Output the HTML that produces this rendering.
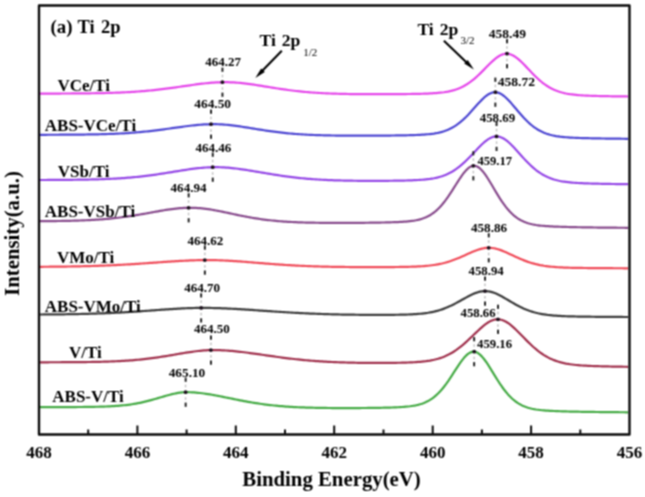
<!DOCTYPE html>
<html><head><meta charset="utf-8"><title>Ti 2p XPS</title>
<style>html,body{margin:0;padding:0;background:#fff;width:645px;height:497px;overflow:hidden}
svg{display:block}</style></head>
<body>
<svg width="645" height="497" viewBox="0 0 645 497">
<defs><filter id="bl" x="0" y="0" width="645" height="497" filterUnits="userSpaceOnUse" color-interpolation-filters="sRGB"><feConvolveMatrix order="3" kernelMatrix="1 2 1 2 4 2 1 2 1" divisor="16" edgeMode="duplicate"/></filter></defs>
<rect width="645" height="497" fill="#fff"/>
<g filter="url(#bl)">
<path d="M40.0,93.60 L42.0,93.59 L44.0,93.59 L46.0,93.58 L48.0,93.58 L50.0,93.57 L52.0,93.56 L54.0,93.56 L56.0,93.55 L58.0,93.54 L60.0,93.53 L62.0,93.52 L64.0,93.51 L66.0,93.50 L68.0,93.49 L70.0,93.48 L72.0,93.47 L74.0,93.45 L76.0,93.44 L78.0,93.42 L80.0,93.40 L82.0,93.38 L84.0,93.36 L86.0,93.34 L88.0,93.32 L90.0,93.29 L92.0,93.27 L94.0,93.24 L96.0,93.20 L98.0,93.17 L100.0,93.13 L102.0,93.09 L104.0,93.04 L106.0,93.00 L108.0,92.94 L110.0,92.89 L112.0,92.83 L114.0,92.76 L116.0,92.69 L118.0,92.62 L120.0,92.54 L122.0,92.45 L124.0,92.36 L126.0,92.26 L128.0,92.16 L130.0,92.04 L132.0,91.93 L134.0,91.80 L136.0,91.67 L138.0,91.52 L140.0,91.37 L142.0,91.22 L144.0,91.05 L146.0,90.88 L148.0,90.69 L150.0,90.50 L152.0,90.30 L154.0,90.09 L156.0,89.87 L158.0,89.65 L160.0,89.42 L162.0,89.18 L164.0,88.93 L166.0,88.67 L168.0,88.41 L170.0,88.14 L172.0,87.87 L174.0,87.59 L176.0,87.31 L178.0,87.02 L180.0,86.73 L182.0,86.44 L184.0,86.15 L186.0,85.86 L188.0,85.57 L190.0,85.29 L192.0,85.01 L194.0,84.73 L196.0,84.46 L198.0,84.20 L200.0,83.94 L202.0,83.70 L204.0,83.47 L206.0,83.26 L208.0,83.06 L210.0,82.88 L212.0,82.71 L214.0,82.57 L216.0,82.45 L218.0,82.35 L220.0,82.28 L222.0,82.22 L224.0,82.20 L226.0,82.20 L228.0,82.22 L230.0,82.28 L232.0,82.36 L234.0,82.46 L236.0,82.60 L238.0,82.75 L240.0,82.93 L242.0,83.13 L244.0,83.36 L246.0,83.60 L248.0,83.85 L250.0,84.13 L252.0,84.41 L254.0,84.71 L256.0,85.01 L258.0,85.32 L260.0,85.64 L262.0,85.96 L264.0,86.29 L266.0,86.61 L268.0,86.94 L270.0,87.26 L272.0,87.59 L274.0,87.91 L276.0,88.22 L278.0,88.53 L280.0,88.83 L282.0,89.13 L284.0,89.42 L286.0,89.70 L288.0,89.97 L290.0,90.23 L292.0,90.49 L294.0,90.73 L296.0,90.97 L298.0,91.19 L300.0,91.41 L302.0,91.61 L304.0,91.80 L306.0,91.99 L308.0,92.16 L310.0,92.33 L312.0,92.48 L314.0,92.63 L316.0,92.77 L318.0,92.89 L320.0,93.02 L322.0,93.13 L324.0,93.23 L326.0,93.33 L328.0,93.42 L330.0,93.50 L332.0,93.58 L334.0,93.65 L336.0,93.71 L338.0,93.77 L340.0,93.83 L342.0,93.88 L344.0,93.92 L346.0,93.96 L348.0,94.00 L350.0,94.03 L352.0,94.06 L354.0,94.09 L356.0,94.11 L358.0,94.13 L360.0,94.15 L362.0,94.17 L364.0,94.18 L366.0,94.19 L368.0,94.20 L370.0,94.20 L372.0,94.21 L374.0,94.21 L376.0,94.21 L378.0,94.21 L380.0,94.21 L382.0,94.21 L384.0,94.20 L386.0,94.20 L388.0,94.19 L390.0,94.18 L392.0,94.17 L394.0,94.16 L396.0,94.14 L398.0,94.13 L400.0,94.11 L402.0,94.09 L404.0,94.07 L406.0,94.04 L408.0,94.02 L410.0,93.99 L412.0,93.96 L414.0,93.92 L416.0,93.89 L418.0,93.84 L420.0,93.80 L422.0,93.74 L424.0,93.68 L426.0,93.61 L428.0,93.53 L430.0,93.44 L432.0,93.34 L434.0,93.22 L436.0,93.08 L438.0,92.91 L440.0,92.72 L442.0,92.49 L444.0,92.23 L446.0,91.92 L448.0,91.56 L450.0,91.15 L452.0,90.67 L454.0,90.11 L456.0,89.48 L458.0,88.75 L460.0,87.93 L462.0,87.00 L464.0,85.97 L466.0,84.82 L468.0,83.55 L470.0,82.17 L472.0,80.67 L474.0,79.05 L476.0,77.33 L478.0,75.51 L480.0,73.61 L482.0,71.64 L484.0,69.63 L486.0,67.59 L488.0,65.56 L490.0,63.57 L492.0,61.66 L494.0,59.85 L496.0,58.21 L498.0,56.76 L500.0,55.55 L502.0,54.62 L504.0,54.00 L506.0,53.71 L508.0,53.77 L510.0,54.18 L512.0,54.92 L514.0,55.97 L516.0,57.30 L518.0,58.86 L520.0,60.62 L522.0,62.52 L524.0,64.53 L526.0,66.62 L528.0,68.73 L530.0,70.85 L532.0,72.94 L534.0,74.98 L536.0,76.94 L538.0,78.82 L540.0,80.59 L542.0,82.26 L544.0,83.80 L546.0,85.23 L548.0,86.53 L550.0,87.71 L552.0,88.78 L554.0,89.73 L556.0,90.57 L558.0,91.32 L560.0,91.98 L562.0,92.55 L564.0,93.05 L566.0,93.48 L568.0,93.86 L570.0,94.18 L572.0,94.45 L574.0,94.69 L576.0,94.90 L578.0,95.07 L580.0,95.23 L582.0,95.36 L584.0,95.48 L586.0,95.58 L588.0,95.67 L590.0,95.75 L592.0,95.82 L594.0,95.88 L596.0,95.94 L598.0,95.99 L600.0,96.04 L602.0,96.09 L604.0,96.13 L606.0,96.17 L608.0,96.21 L610.0,96.25 L612.0,96.28 L614.0,96.31 L616.0,96.34 L618.0,96.37 L620.0,96.40 L622.0,96.42 L624.0,96.45 L626.0,96.47 L628.0,96.49" fill="none" stroke="#e545ea" stroke-width="2.2" stroke-linejoin="round"/>
<path d="M40.0,134.80 L42.0,134.79 L44.0,134.79 L46.0,134.78 L48.0,134.77 L50.0,134.77 L52.0,134.76 L54.0,134.75 L56.0,134.74 L58.0,134.73 L60.0,134.72 L62.0,134.71 L64.0,134.70 L66.0,134.69 L68.0,134.68 L70.0,134.66 L72.0,134.65 L74.0,134.63 L76.0,134.61 L78.0,134.59 L80.0,134.57 L82.0,134.55 L84.0,134.53 L86.0,134.50 L88.0,134.47 L90.0,134.44 L92.0,134.40 L94.0,134.37 L96.0,134.33 L98.0,134.28 L100.0,134.24 L102.0,134.19 L104.0,134.13 L106.0,134.07 L108.0,134.01 L110.0,133.94 L112.0,133.86 L114.0,133.78 L116.0,133.69 L118.0,133.60 L120.0,133.50 L122.0,133.40 L124.0,133.28 L126.0,133.16 L128.0,133.03 L130.0,132.90 L132.0,132.75 L134.0,132.60 L136.0,132.44 L138.0,132.27 L140.0,132.09 L142.0,131.90 L144.0,131.70 L146.0,131.50 L148.0,131.29 L150.0,131.06 L152.0,130.83 L154.0,130.60 L156.0,130.35 L158.0,130.10 L160.0,129.84 L162.0,129.58 L164.0,129.31 L166.0,129.03 L168.0,128.76 L170.0,128.48 L172.0,128.19 L174.0,127.91 L176.0,127.63 L178.0,127.34 L180.0,127.06 L182.0,126.79 L184.0,126.52 L186.0,126.26 L188.0,126.00 L190.0,125.76 L192.0,125.52 L194.0,125.31 L196.0,125.10 L198.0,124.91 L200.0,124.75 L202.0,124.60 L204.0,124.47 L206.0,124.36 L208.0,124.28 L210.0,124.23 L212.0,124.20 L214.0,124.19 L216.0,124.21 L218.0,124.27 L220.0,124.34 L222.0,124.45 L224.0,124.59 L226.0,124.74 L228.0,124.93 L230.0,125.13 L232.0,125.36 L234.0,125.61 L236.0,125.87 L238.0,126.14 L240.0,126.43 L242.0,126.73 L244.0,127.04 L246.0,127.36 L248.0,127.68 L250.0,128.00 L252.0,128.33 L254.0,128.65 L256.0,128.98 L258.0,129.30 L260.0,129.62 L262.0,129.94 L264.0,130.25 L266.0,130.55 L268.0,130.84 L270.0,131.13 L272.0,131.41 L274.0,131.68 L276.0,131.94 L278.0,132.19 L280.0,132.43 L282.0,132.66 L284.0,132.88 L286.0,133.09 L288.0,133.29 L290.0,133.48 L292.0,133.65 L294.0,133.82 L296.0,133.98 L298.0,134.13 L300.0,134.27 L302.0,134.40 L304.0,134.52 L306.0,134.63 L308.0,134.73 L310.0,134.83 L312.0,134.92 L314.0,135.00 L316.0,135.07 L318.0,135.14 L320.0,135.21 L322.0,135.26 L324.0,135.32 L326.0,135.36 L328.0,135.41 L330.0,135.45 L332.0,135.48 L334.0,135.51 L336.0,135.54 L338.0,135.56 L340.0,135.59 L342.0,135.61 L344.0,135.62 L346.0,135.64 L348.0,135.65 L350.0,135.66 L352.0,135.67 L354.0,135.67 L356.0,135.68 L358.0,135.68 L360.0,135.68 L362.0,135.68 L364.0,135.68 L366.0,135.68 L368.0,135.67 L370.0,135.67 L372.0,135.66 L374.0,135.65 L376.0,135.64 L378.0,135.63 L380.0,135.62 L382.0,135.60 L384.0,135.59 L386.0,135.57 L388.0,135.55 L390.0,135.53 L392.0,135.51 L394.0,135.48 L396.0,135.46 L398.0,135.43 L400.0,135.40 L402.0,135.36 L404.0,135.33 L406.0,135.28 L408.0,135.24 L410.0,135.19 L412.0,135.13 L414.0,135.07 L416.0,134.99 L418.0,134.91 L420.0,134.82 L422.0,134.71 L424.0,134.58 L426.0,134.43 L428.0,134.26 L430.0,134.06 L432.0,133.82 L434.0,133.54 L436.0,133.21 L438.0,132.83 L440.0,132.38 L442.0,131.85 L444.0,131.25 L446.0,130.55 L448.0,129.75 L450.0,128.84 L452.0,127.81 L454.0,126.66 L456.0,125.37 L458.0,123.95 L460.0,122.40 L462.0,120.71 L464.0,118.89 L466.0,116.95 L468.0,114.91 L470.0,112.77 L472.0,110.57 L474.0,108.33 L476.0,106.07 L478.0,103.84 L480.0,101.67 L482.0,99.61 L484.0,97.71 L486.0,96.01 L488.0,94.57 L490.0,93.44 L492.0,92.65 L494.0,92.25 L496.0,92.24 L498.0,92.63 L500.0,93.40 L502.0,94.54 L504.0,96.00 L506.0,97.74 L508.0,99.71 L510.0,101.84 L512.0,104.11 L514.0,106.44 L516.0,108.82 L518.0,111.19 L520.0,113.52 L522.0,115.79 L524.0,117.97 L526.0,120.05 L528.0,122.00 L530.0,123.82 L532.0,125.50 L534.0,127.04 L536.0,128.44 L538.0,129.70 L540.0,130.83 L542.0,131.83 L544.0,132.72 L546.0,133.49 L548.0,134.17 L550.0,134.75 L552.0,135.26 L554.0,135.69 L556.0,136.07 L558.0,136.38 L560.0,136.66 L562.0,136.89 L564.0,137.09 L566.0,137.26 L568.0,137.41 L570.0,137.54 L572.0,137.66 L574.0,137.75 L576.0,137.84 L578.0,137.92 L580.0,137.99 L582.0,138.06 L584.0,138.11 L586.0,138.17 L588.0,138.22 L590.0,138.26 L592.0,138.31 L594.0,138.35 L596.0,138.39 L598.0,138.42 L600.0,138.46 L602.0,138.49 L604.0,138.52 L606.0,138.55 L608.0,138.58 L610.0,138.60 L612.0,138.63 L614.0,138.65 L616.0,138.68 L618.0,138.70 L620.0,138.72 L622.0,138.74 L624.0,138.76 L626.0,138.78 L628.0,138.80" fill="none" stroke="#4c46d2" stroke-width="2.2" stroke-linejoin="round"/>
<path d="M40.0,180.00 L42.0,179.99 L44.0,179.98 L46.0,179.98 L48.0,179.97 L50.0,179.96 L52.0,179.95 L54.0,179.93 L56.0,179.92 L58.0,179.91 L60.0,179.90 L62.0,179.88 L64.0,179.87 L66.0,179.85 L68.0,179.83 L70.0,179.81 L72.0,179.79 L74.0,179.77 L76.0,179.74 L78.0,179.72 L80.0,179.69 L82.0,179.66 L84.0,179.62 L86.0,179.59 L88.0,179.55 L90.0,179.51 L92.0,179.46 L94.0,179.41 L96.0,179.36 L98.0,179.30 L100.0,179.24 L102.0,179.17 L104.0,179.10 L106.0,179.02 L108.0,178.94 L110.0,178.85 L112.0,178.75 L114.0,178.65 L116.0,178.54 L118.0,178.43 L120.0,178.30 L122.0,178.17 L124.0,178.03 L126.0,177.88 L128.0,177.72 L130.0,177.56 L132.0,177.38 L134.0,177.19 L136.0,177.00 L138.0,176.80 L140.0,176.58 L142.0,176.36 L144.0,176.13 L146.0,175.88 L148.0,175.63 L150.0,175.37 L152.0,175.10 L154.0,174.82 L156.0,174.54 L158.0,174.25 L160.0,173.95 L162.0,173.64 L164.0,173.33 L166.0,173.01 L168.0,172.69 L170.0,172.36 L172.0,172.04 L174.0,171.71 L176.0,171.38 L178.0,171.06 L180.0,170.73 L182.0,170.42 L184.0,170.10 L186.0,169.80 L188.0,169.50 L190.0,169.21 L192.0,168.94 L194.0,168.68 L196.0,168.43 L198.0,168.20 L200.0,167.99 L202.0,167.81 L204.0,167.64 L206.0,167.50 L208.0,167.38 L210.0,167.29 L212.0,167.23 L214.0,167.20 L216.0,167.19 L218.0,167.21 L220.0,167.26 L222.0,167.34 L224.0,167.44 L226.0,167.57 L228.0,167.72 L230.0,167.89 L232.0,168.08 L234.0,168.30 L236.0,168.53 L238.0,168.78 L240.0,169.05 L242.0,169.33 L244.0,169.63 L246.0,169.93 L248.0,170.25 L250.0,170.57 L252.0,170.90 L254.0,171.23 L256.0,171.57 L258.0,171.91 L260.0,172.25 L262.0,172.59 L264.0,172.93 L266.0,173.27 L268.0,173.61 L270.0,173.94 L272.0,174.27 L274.0,174.59 L276.0,174.90 L278.0,175.21 L280.0,175.51 L282.0,175.81 L284.0,176.09 L286.0,176.37 L288.0,176.63 L290.0,176.89 L292.0,177.14 L294.0,177.38 L296.0,177.61 L298.0,177.83 L300.0,178.04 L302.0,178.24 L304.0,178.43 L306.0,178.62 L308.0,178.79 L310.0,178.95 L312.0,179.11 L314.0,179.25 L316.0,179.39 L318.0,179.52 L320.0,179.64 L322.0,179.75 L324.0,179.86 L326.0,179.96 L328.0,180.05 L330.0,180.13 L332.0,180.21 L334.0,180.28 L336.0,180.35 L338.0,180.41 L340.0,180.47 L342.0,180.52 L344.0,180.57 L346.0,180.61 L348.0,180.65 L350.0,180.68 L352.0,180.71 L354.0,180.74 L356.0,180.76 L358.0,180.79 L360.0,180.80 L362.0,180.82 L364.0,180.83 L366.0,180.84 L368.0,180.84 L370.0,180.85 L372.0,180.85 L374.0,180.85 L376.0,180.85 L378.0,180.84 L380.0,180.83 L382.0,180.82 L384.0,180.81 L386.0,180.80 L388.0,180.78 L390.0,180.76 L392.0,180.74 L394.0,180.71 L396.0,180.69 L398.0,180.66 L400.0,180.62 L402.0,180.58 L404.0,180.54 L406.0,180.49 L408.0,180.43 L410.0,180.37 L412.0,180.30 L414.0,180.22 L416.0,180.12 L418.0,180.01 L420.0,179.89 L422.0,179.74 L424.0,179.57 L426.0,179.38 L428.0,179.15 L430.0,178.89 L432.0,178.58 L434.0,178.23 L436.0,177.82 L438.0,177.34 L440.0,176.80 L442.0,176.19 L444.0,175.48 L446.0,174.69 L448.0,173.80 L450.0,172.81 L452.0,171.70 L454.0,170.48 L456.0,169.15 L458.0,167.69 L460.0,166.12 L462.0,164.44 L464.0,162.65 L466.0,160.76 L468.0,158.79 L470.0,156.75 L472.0,154.66 L474.0,152.53 L476.0,150.40 L478.0,148.30 L480.0,146.25 L482.0,144.30 L484.0,142.47 L486.0,140.82 L488.0,139.37 L490.0,138.17 L492.0,137.26 L494.0,136.66 L496.0,136.40 L498.0,136.49 L500.0,136.91 L502.0,137.68 L504.0,138.75 L506.0,140.11 L508.0,141.71 L510.0,143.51 L512.0,145.48 L514.0,147.57 L516.0,149.74 L518.0,151.97 L520.0,154.21 L522.0,156.44 L524.0,158.63 L526.0,160.77 L528.0,162.82 L530.0,164.79 L532.0,166.65 L534.0,168.39 L536.0,170.02 L538.0,171.53 L540.0,172.91 L542.0,174.18 L544.0,175.32 L546.0,176.36 L548.0,177.28 L550.0,178.10 L552.0,178.83 L554.0,179.47 L556.0,180.04 L558.0,180.53 L560.0,180.96 L562.0,181.34 L564.0,181.66 L566.0,181.94 L568.0,182.19 L570.0,182.40 L572.0,182.58 L574.0,182.74 L576.0,182.88 L578.0,183.01 L580.0,183.12 L582.0,183.21 L584.0,183.30 L586.0,183.38 L588.0,183.45 L590.0,183.51 L592.0,183.57 L594.0,183.63 L596.0,183.68 L598.0,183.72 L600.0,183.77 L602.0,183.81 L604.0,183.85 L606.0,183.88 L608.0,183.92 L610.0,183.95 L612.0,183.99 L614.0,184.02 L616.0,184.04 L618.0,184.07 L620.0,184.10 L622.0,184.12 L624.0,184.15 L626.0,184.17 L628.0,184.19" fill="none" stroke="#9446e6" stroke-width="2.2" stroke-linejoin="round"/>
<path d="M40.0,221.20 L42.0,221.18 L44.0,221.17 L46.0,221.15 L48.0,221.13 L50.0,221.11 L52.0,221.09 L54.0,221.06 L56.0,221.04 L58.0,221.01 L60.0,220.98 L62.0,220.94 L64.0,220.91 L66.0,220.87 L68.0,220.83 L70.0,220.78 L72.0,220.73 L74.0,220.68 L76.0,220.62 L78.0,220.56 L80.0,220.49 L82.0,220.42 L84.0,220.34 L86.0,220.26 L88.0,220.16 L90.0,220.07 L92.0,219.96 L94.0,219.85 L96.0,219.72 L98.0,219.59 L100.0,219.45 L102.0,219.31 L104.0,219.15 L106.0,218.98 L108.0,218.80 L110.0,218.61 L112.0,218.41 L114.0,218.20 L116.0,217.98 L118.0,217.75 L120.0,217.51 L122.0,217.25 L124.0,216.99 L126.0,216.71 L128.0,216.43 L130.0,216.13 L132.0,215.82 L134.0,215.51 L136.0,215.18 L138.0,214.85 L140.0,214.51 L142.0,214.16 L144.0,213.81 L146.0,213.46 L148.0,213.10 L150.0,212.74 L152.0,212.37 L154.0,212.01 L156.0,211.65 L158.0,211.30 L160.0,210.95 L162.0,210.61 L164.0,210.28 L166.0,209.96 L168.0,209.65 L170.0,209.36 L172.0,209.09 L174.0,208.84 L176.0,208.61 L178.0,208.40 L180.0,208.22 L182.0,208.07 L184.0,207.95 L186.0,207.86 L188.0,207.80 L190.0,207.78 L192.0,207.79 L194.0,207.83 L196.0,207.92 L198.0,208.04 L200.0,208.19 L202.0,208.38 L204.0,208.60 L206.0,208.85 L208.0,209.13 L210.0,209.44 L212.0,209.77 L214.0,210.12 L216.0,210.48 L218.0,210.87 L220.0,211.27 L222.0,211.67 L224.0,212.09 L226.0,212.51 L228.0,212.94 L230.0,213.37 L232.0,213.79 L234.0,214.22 L236.0,214.64 L238.0,215.06 L240.0,215.47 L242.0,215.87 L244.0,216.27 L246.0,216.65 L248.0,217.02 L250.0,217.38 L252.0,217.73 L254.0,218.07 L256.0,218.40 L258.0,218.71 L260.0,219.00 L262.0,219.29 L264.0,219.56 L266.0,219.81 L268.0,220.06 L270.0,220.28 L272.0,220.50 L274.0,220.70 L276.0,220.89 L278.0,221.07 L280.0,221.24 L282.0,221.39 L284.0,221.54 L286.0,221.67 L288.0,221.79 L290.0,221.91 L292.0,222.01 L294.0,222.11 L296.0,222.20 L298.0,222.28 L300.0,222.35 L302.0,222.42 L304.0,222.48 L306.0,222.54 L308.0,222.59 L310.0,222.63 L312.0,222.67 L314.0,222.71 L316.0,222.74 L318.0,222.77 L320.0,222.79 L322.0,222.82 L324.0,222.83 L326.0,222.85 L328.0,222.86 L330.0,222.88 L332.0,222.88 L334.0,222.89 L336.0,222.90 L338.0,222.90 L340.0,222.90 L342.0,222.90 L344.0,222.90 L346.0,222.89 L348.0,222.89 L350.0,222.88 L352.0,222.87 L354.0,222.86 L356.0,222.85 L358.0,222.84 L360.0,222.82 L362.0,222.80 L364.0,222.79 L366.0,222.77 L368.0,222.74 L370.0,222.72 L372.0,222.69 L374.0,222.66 L376.0,222.63 L378.0,222.60 L380.0,222.56 L382.0,222.52 L384.0,222.48 L386.0,222.43 L388.0,222.38 L390.0,222.32 L392.0,222.26 L394.0,222.19 L396.0,222.11 L398.0,222.03 L400.0,221.93 L402.0,221.81 L404.0,221.68 L406.0,221.53 L408.0,221.35 L410.0,221.14 L412.0,220.89 L414.0,220.60 L416.0,220.24 L418.0,219.83 L420.0,219.33 L422.0,218.74 L424.0,218.05 L426.0,217.24 L428.0,216.30 L430.0,215.20 L432.0,213.94 L434.0,212.49 L436.0,210.86 L438.0,209.03 L440.0,207.00 L442.0,204.75 L444.0,202.31 L446.0,199.68 L448.0,196.87 L450.0,193.91 L452.0,190.83 L454.0,187.68 L456.0,184.49 L458.0,181.33 L460.0,178.26 L462.0,175.36 L464.0,172.69 L466.0,170.36 L468.0,168.43 L470.0,166.98 L472.0,166.09 L474.0,165.78 L476.0,166.09 L478.0,167.00 L480.0,168.48 L482.0,170.47 L484.0,172.90 L486.0,175.68 L488.0,178.73 L490.0,181.96 L492.0,185.31 L494.0,188.70 L496.0,192.07 L498.0,195.37 L500.0,198.55 L502.0,201.58 L504.0,204.43 L506.0,207.09 L508.0,209.53 L510.0,211.76 L512.0,213.77 L514.0,215.57 L516.0,217.17 L518.0,218.57 L520.0,219.80 L522.0,220.86 L524.0,221.77 L526.0,222.55 L528.0,223.21 L530.0,223.78 L532.0,224.26 L534.0,224.66 L536.0,225.00 L538.0,225.29 L540.0,225.54 L542.0,225.75 L544.0,225.92 L546.0,226.08 L548.0,226.22 L550.0,226.33 L552.0,226.44 L554.0,226.53 L556.0,226.62 L558.0,226.70 L560.0,226.77 L562.0,226.83 L564.0,226.90 L566.0,226.95 L568.0,227.01 L570.0,227.06 L572.0,227.10 L574.0,227.15 L576.0,227.19 L578.0,227.23 L580.0,227.27 L582.0,227.30 L584.0,227.34 L586.0,227.37 L588.0,227.40 L590.0,227.43 L592.0,227.46 L594.0,227.48 L596.0,227.51 L598.0,227.53 L600.0,227.55 L602.0,227.58 L604.0,227.60 L606.0,227.62 L608.0,227.64 L610.0,227.66 L612.0,227.68 L614.0,227.69 L616.0,227.71 L618.0,227.73 L620.0,227.74 L622.0,227.76 L624.0,227.77 L626.0,227.78 L628.0,227.80" fill="none" stroke="#874a8c" stroke-width="2.2" stroke-linejoin="round"/>
<path d="M40.0,266.80 L42.0,266.79 L44.0,266.77 L46.0,266.76 L48.0,266.74 L50.0,266.72 L52.0,266.70 L54.0,266.68 L56.0,266.66 L58.0,266.64 L60.0,266.62 L62.0,266.59 L64.0,266.57 L66.0,266.54 L68.0,266.51 L70.0,266.48 L72.0,266.44 L74.0,266.41 L76.0,266.37 L78.0,266.33 L80.0,266.29 L82.0,266.24 L84.0,266.19 L86.0,266.14 L88.0,266.09 L90.0,266.04 L92.0,265.98 L94.0,265.92 L96.0,265.86 L98.0,265.79 L100.0,265.72 L102.0,265.65 L104.0,265.57 L106.0,265.49 L108.0,265.41 L110.0,265.32 L112.0,265.23 L114.0,265.14 L116.0,265.04 L118.0,264.94 L120.0,264.84 L122.0,264.73 L124.0,264.63 L126.0,264.51 L128.0,264.40 L130.0,264.28 L132.0,264.16 L134.0,264.03 L136.0,263.90 L138.0,263.78 L140.0,263.64 L142.0,263.51 L144.0,263.37 L146.0,263.24 L148.0,263.10 L150.0,262.96 L152.0,262.81 L154.0,262.67 L156.0,262.53 L158.0,262.39 L160.0,262.25 L162.0,262.10 L164.0,261.96 L166.0,261.83 L168.0,261.69 L170.0,261.56 L172.0,261.42 L174.0,261.30 L176.0,261.17 L178.0,261.05 L180.0,260.94 L182.0,260.83 L184.0,260.73 L186.0,260.63 L188.0,260.54 L190.0,260.45 L192.0,260.38 L194.0,260.31 L196.0,260.25 L198.0,260.20 L200.0,260.16 L202.0,260.13 L204.0,260.11 L206.0,260.10 L208.0,260.10 L210.0,260.11 L212.0,260.13 L214.0,260.16 L216.0,260.20 L218.0,260.26 L220.0,260.33 L222.0,260.40 L224.0,260.49 L226.0,260.58 L228.0,260.69 L230.0,260.80 L232.0,260.92 L234.0,261.05 L236.0,261.18 L238.0,261.32 L240.0,261.47 L242.0,261.62 L244.0,261.77 L246.0,261.93 L248.0,262.08 L250.0,262.24 L252.0,262.41 L254.0,262.57 L256.0,262.73 L258.0,262.90 L260.0,263.06 L262.0,263.22 L264.0,263.38 L266.0,263.54 L268.0,263.70 L270.0,263.85 L272.0,264.00 L274.0,264.15 L276.0,264.30 L278.0,264.44 L280.0,264.58 L282.0,264.72 L284.0,264.85 L286.0,264.98 L288.0,265.10 L290.0,265.22 L292.0,265.34 L294.0,265.45 L296.0,265.55 L298.0,265.66 L300.0,265.75 L302.0,265.85 L304.0,265.94 L306.0,266.02 L308.0,266.11 L310.0,266.18 L312.0,266.26 L314.0,266.33 L316.0,266.39 L318.0,266.45 L320.0,266.51 L322.0,266.57 L324.0,266.62 L326.0,266.67 L328.0,266.71 L330.0,266.75 L332.0,266.79 L334.0,266.83 L336.0,266.86 L338.0,266.89 L340.0,266.92 L342.0,266.95 L344.0,266.97 L346.0,266.99 L348.0,267.01 L350.0,267.03 L352.0,267.05 L354.0,267.06 L356.0,267.07 L358.0,267.08 L360.0,267.09 L362.0,267.10 L364.0,267.11 L366.0,267.11 L368.0,267.11 L370.0,267.12 L372.0,267.12 L374.0,267.12 L376.0,267.11 L378.0,267.11 L380.0,267.10 L382.0,267.10 L384.0,267.09 L386.0,267.08 L388.0,267.07 L390.0,267.06 L392.0,267.04 L394.0,267.03 L396.0,267.01 L398.0,266.99 L400.0,266.96 L402.0,266.93 L404.0,266.90 L406.0,266.86 L408.0,266.82 L410.0,266.77 L412.0,266.71 L414.0,266.64 L416.0,266.56 L418.0,266.47 L420.0,266.36 L422.0,266.24 L424.0,266.10 L426.0,265.93 L428.0,265.74 L430.0,265.53 L432.0,265.28 L434.0,265.00 L436.0,264.69 L438.0,264.33 L440.0,263.93 L442.0,263.49 L444.0,263.00 L446.0,262.46 L448.0,261.88 L450.0,261.25 L452.0,260.56 L454.0,259.83 L456.0,259.06 L458.0,258.25 L460.0,257.40 L462.0,256.53 L464.0,255.64 L466.0,254.73 L468.0,253.82 L470.0,252.93 L472.0,252.06 L474.0,251.23 L476.0,250.45 L478.0,249.75 L480.0,249.13 L482.0,248.61 L484.0,248.21 L486.0,247.94 L488.0,247.81 L490.0,247.82 L492.0,247.98 L494.0,248.27 L496.0,248.69 L498.0,249.24 L500.0,249.89 L502.0,250.62 L504.0,251.43 L506.0,252.29 L508.0,253.20 L510.0,254.13 L512.0,255.07 L514.0,256.01 L516.0,256.94 L518.0,257.84 L520.0,258.72 L522.0,259.57 L524.0,260.37 L526.0,261.13 L528.0,261.84 L530.0,262.50 L532.0,263.11 L534.0,263.67 L536.0,264.19 L538.0,264.65 L540.0,265.07 L542.0,265.44 L544.0,265.78 L546.0,266.07 L548.0,266.33 L550.0,266.56 L552.0,266.76 L554.0,266.94 L556.0,267.09 L558.0,267.23 L560.0,267.34 L562.0,267.44 L564.0,267.53 L566.0,267.61 L568.0,267.67 L570.0,267.73 L572.0,267.78 L574.0,267.83 L576.0,267.87 L578.0,267.90 L580.0,267.94 L582.0,267.97 L584.0,267.99 L586.0,268.02 L588.0,268.04 L590.0,268.06 L592.0,268.08 L594.0,268.10 L596.0,268.12 L598.0,268.13 L600.0,268.15 L602.0,268.16 L604.0,268.18 L606.0,268.19 L608.0,268.20 L610.0,268.21 L612.0,268.22 L614.0,268.23 L616.0,268.24 L618.0,268.25 L620.0,268.26 L622.0,268.27 L624.0,268.28 L626.0,268.29 L628.0,268.30" fill="none" stroke="#f04a58" stroke-width="2.2" stroke-linejoin="round"/>
<path d="M40.0,314.50 L42.0,314.49 L44.0,314.47 L46.0,314.46 L48.0,314.44 L50.0,314.43 L52.0,314.41 L54.0,314.39 L56.0,314.37 L58.0,314.35 L60.0,314.33 L62.0,314.30 L64.0,314.28 L66.0,314.25 L68.0,314.22 L70.0,314.19 L72.0,314.16 L74.0,314.12 L76.0,314.09 L78.0,314.05 L80.0,314.00 L82.0,313.96 L84.0,313.91 L86.0,313.86 L88.0,313.81 L90.0,313.76 L92.0,313.70 L94.0,313.64 L96.0,313.57 L98.0,313.50 L100.0,313.43 L102.0,313.36 L104.0,313.28 L106.0,313.20 L108.0,313.12 L110.0,313.03 L112.0,312.94 L114.0,312.84 L116.0,312.74 L118.0,312.64 L120.0,312.53 L122.0,312.42 L124.0,312.31 L126.0,312.19 L128.0,312.07 L130.0,311.95 L132.0,311.82 L134.0,311.69 L136.0,311.56 L138.0,311.43 L140.0,311.29 L142.0,311.15 L144.0,311.01 L146.0,310.87 L148.0,310.73 L150.0,310.58 L152.0,310.44 L154.0,310.29 L156.0,310.14 L158.0,310.00 L160.0,309.85 L162.0,309.71 L164.0,309.57 L166.0,309.43 L168.0,309.29 L170.0,309.16 L172.0,309.03 L174.0,308.90 L176.0,308.78 L178.0,308.67 L180.0,308.56 L182.0,308.46 L184.0,308.36 L186.0,308.27 L188.0,308.19 L190.0,308.12 L192.0,308.06 L194.0,308.00 L196.0,307.96 L198.0,307.93 L200.0,307.91 L202.0,307.90 L204.0,307.89 L206.0,307.90 L208.0,307.92 L210.0,307.95 L212.0,307.99 L214.0,308.03 L216.0,308.08 L218.0,308.14 L220.0,308.20 L222.0,308.28 L224.0,308.35 L226.0,308.44 L228.0,308.53 L230.0,308.63 L232.0,308.73 L234.0,308.84 L236.0,308.95 L238.0,309.07 L240.0,309.19 L242.0,309.31 L244.0,309.44 L246.0,309.57 L248.0,309.70 L250.0,309.84 L252.0,309.97 L254.0,310.11 L256.0,310.25 L258.0,310.39 L260.0,310.53 L262.0,310.67 L264.0,310.81 L266.0,310.95 L268.0,311.09 L270.0,311.22 L272.0,311.36 L274.0,311.49 L276.0,311.63 L278.0,311.76 L280.0,311.89 L282.0,312.02 L284.0,312.14 L286.0,312.26 L288.0,312.39 L290.0,312.50 L292.0,312.62 L294.0,312.73 L296.0,312.84 L298.0,312.95 L300.0,313.05 L302.0,313.15 L304.0,313.25 L306.0,313.35 L308.0,313.44 L310.0,313.53 L312.0,313.61 L314.0,313.69 L316.0,313.77 L318.0,313.85 L320.0,313.92 L322.0,313.99 L324.0,314.06 L326.0,314.12 L328.0,314.18 L330.0,314.24 L332.0,314.30 L334.0,314.35 L336.0,314.40 L338.0,314.44 L340.0,314.49 L342.0,314.53 L344.0,314.57 L346.0,314.60 L348.0,314.64 L350.0,314.67 L352.0,314.70 L354.0,314.72 L356.0,314.75 L358.0,314.77 L360.0,314.79 L362.0,314.81 L364.0,314.82 L366.0,314.84 L368.0,314.85 L370.0,314.86 L372.0,314.87 L374.0,314.87 L376.0,314.87 L378.0,314.87 L380.0,314.87 L382.0,314.87 L384.0,314.86 L386.0,314.86 L388.0,314.84 L390.0,314.83 L392.0,314.81 L394.0,314.79 L396.0,314.77 L398.0,314.74 L400.0,314.70 L402.0,314.66 L404.0,314.61 L406.0,314.55 L408.0,314.48 L410.0,314.41 L412.0,314.31 L414.0,314.20 L416.0,314.08 L418.0,313.93 L420.0,313.76 L422.0,313.56 L424.0,313.33 L426.0,313.07 L428.0,312.78 L430.0,312.44 L432.0,312.05 L434.0,311.62 L436.0,311.13 L438.0,310.60 L440.0,310.00 L442.0,309.34 L444.0,308.63 L446.0,307.85 L448.0,307.01 L450.0,306.12 L452.0,305.17 L454.0,304.17 L456.0,303.13 L458.0,302.05 L460.0,300.95 L462.0,299.83 L464.0,298.71 L466.0,297.60 L468.0,296.51 L470.0,295.48 L472.0,294.51 L474.0,293.62 L476.0,292.84 L478.0,292.18 L480.0,291.66 L482.0,291.31 L484.0,291.12 L486.0,291.11 L488.0,291.28 L490.0,291.63 L492.0,292.14 L494.0,292.80 L496.0,293.60 L498.0,294.51 L500.0,295.51 L502.0,296.59 L504.0,297.71 L506.0,298.88 L508.0,300.06 L510.0,301.24 L512.0,302.42 L514.0,303.56 L516.0,304.68 L518.0,305.75 L520.0,306.77 L522.0,307.73 L524.0,308.64 L526.0,309.49 L528.0,310.27 L530.0,310.99 L532.0,311.64 L534.0,312.24 L536.0,312.78 L538.0,313.26 L540.0,313.69 L542.0,314.07 L544.0,314.41 L546.0,314.71 L548.0,314.97 L550.0,315.20 L552.0,315.40 L554.0,315.57 L556.0,315.72 L558.0,315.86 L560.0,315.97 L562.0,316.07 L564.0,316.16 L566.0,316.23 L568.0,316.30 L570.0,316.36 L572.0,316.41 L574.0,316.46 L576.0,316.50 L578.0,316.54 L580.0,316.58 L582.0,316.61 L584.0,316.64 L586.0,316.66 L588.0,316.69 L590.0,316.71 L592.0,316.74 L594.0,316.76 L596.0,316.78 L598.0,316.80 L600.0,316.81 L602.0,316.83 L604.0,316.85 L606.0,316.86 L608.0,316.88 L610.0,316.89 L612.0,316.91 L614.0,316.92 L616.0,316.93 L618.0,316.94 L620.0,316.96 L622.0,316.97 L624.0,316.98 L626.0,316.99 L628.0,317.00" fill="none" stroke="#3a3a3a" stroke-width="2.2" stroke-linejoin="round"/>
<path d="M40.0,362.30 L42.0,362.29 L44.0,362.29 L46.0,362.28 L48.0,362.28 L50.0,362.27 L52.0,362.26 L54.0,362.26 L56.0,362.25 L58.0,362.24 L60.0,362.23 L62.0,362.22 L64.0,362.21 L66.0,362.20 L68.0,362.19 L70.0,362.18 L72.0,362.16 L74.0,362.15 L76.0,362.13 L78.0,362.12 L80.0,362.10 L82.0,362.08 L84.0,362.06 L86.0,362.03 L88.0,362.00 L90.0,361.98 L92.0,361.94 L94.0,361.91 L96.0,361.87 L98.0,361.83 L100.0,361.79 L102.0,361.74 L104.0,361.69 L106.0,361.63 L108.0,361.57 L110.0,361.50 L112.0,361.43 L114.0,361.35 L116.0,361.26 L118.0,361.17 L120.0,361.07 L122.0,360.96 L124.0,360.84 L126.0,360.71 L128.0,360.58 L130.0,360.44 L132.0,360.28 L134.0,360.12 L136.0,359.94 L138.0,359.76 L140.0,359.56 L142.0,359.36 L144.0,359.14 L146.0,358.91 L148.0,358.67 L150.0,358.42 L152.0,358.16 L154.0,357.89 L156.0,357.61 L158.0,357.32 L160.0,357.02 L162.0,356.71 L164.0,356.39 L166.0,356.07 L168.0,355.74 L170.0,355.41 L172.0,355.07 L174.0,354.73 L176.0,354.38 L178.0,354.04 L180.0,353.70 L182.0,353.37 L184.0,353.03 L186.0,352.71 L188.0,352.39 L190.0,352.09 L192.0,351.80 L194.0,351.52 L196.0,351.27 L198.0,351.03 L200.0,350.82 L202.0,350.63 L204.0,350.46 L206.0,350.33 L208.0,350.22 L210.0,350.15 L212.0,350.10 L214.0,350.09 L216.0,350.11 L218.0,350.16 L220.0,350.22 L222.0,350.30 L224.0,350.40 L226.0,350.52 L228.0,350.65 L230.0,350.81 L232.0,350.97 L234.0,351.16 L236.0,351.35 L238.0,351.56 L240.0,351.79 L242.0,352.02 L244.0,352.26 L246.0,352.52 L248.0,352.78 L250.0,353.04 L252.0,353.32 L254.0,353.59 L256.0,353.88 L258.0,354.16 L260.0,354.45 L262.0,354.74 L264.0,355.03 L266.0,355.31 L268.0,355.60 L270.0,355.89 L272.0,356.17 L274.0,356.45 L276.0,356.73 L278.0,357.00 L280.0,357.27 L282.0,357.54 L284.0,357.80 L286.0,358.05 L288.0,358.30 L290.0,358.54 L292.0,358.78 L294.0,359.00 L296.0,359.23 L298.0,359.44 L300.0,359.65 L302.0,359.85 L304.0,360.04 L306.0,360.23 L308.0,360.41 L310.0,360.58 L312.0,360.74 L314.0,360.90 L316.0,361.05 L318.0,361.19 L320.0,361.33 L322.0,361.46 L324.0,361.58 L326.0,361.69 L328.0,361.80 L330.0,361.90 L332.0,362.00 L334.0,362.09 L336.0,362.18 L338.0,362.26 L340.0,362.33 L342.0,362.40 L344.0,362.46 L346.0,362.52 L348.0,362.58 L350.0,362.63 L352.0,362.67 L354.0,362.72 L356.0,362.75 L358.0,362.79 L360.0,362.82 L362.0,362.84 L364.0,362.87 L366.0,362.89 L368.0,362.90 L370.0,362.92 L372.0,362.93 L374.0,362.93 L376.0,362.94 L378.0,362.94 L380.0,362.94 L382.0,362.93 L384.0,362.92 L386.0,362.91 L388.0,362.90 L390.0,362.88 L392.0,362.86 L394.0,362.83 L396.0,362.80 L398.0,362.77 L400.0,362.73 L402.0,362.68 L404.0,362.63 L406.0,362.57 L408.0,362.50 L410.0,362.42 L412.0,362.33 L414.0,362.23 L416.0,362.10 L418.0,361.97 L420.0,361.80 L422.0,361.62 L424.0,361.40 L426.0,361.16 L428.0,360.87 L430.0,360.55 L432.0,360.18 L434.0,359.75 L436.0,359.27 L438.0,358.73 L440.0,358.12 L442.0,357.43 L444.0,356.66 L446.0,355.81 L448.0,354.86 L450.0,353.83 L452.0,352.69 L454.0,351.46 L456.0,350.13 L458.0,348.71 L460.0,347.18 L462.0,345.57 L464.0,343.88 L466.0,342.11 L468.0,340.27 L470.0,338.39 L472.0,336.47 L474.0,334.53 L476.0,332.60 L478.0,330.69 L480.0,328.84 L482.0,327.06 L484.0,325.40 L486.0,323.87 L488.0,322.52 L490.0,321.37 L492.0,320.45 L494.0,319.78 L496.0,319.39 L498.0,319.29 L500.0,319.48 L502.0,319.96 L504.0,320.71 L506.0,321.73 L508.0,322.98 L510.0,324.43 L512.0,326.06 L514.0,327.84 L516.0,329.73 L518.0,331.69 L520.0,333.72 L522.0,335.77 L524.0,337.82 L526.0,339.86 L528.0,341.86 L530.0,343.80 L532.0,345.68 L534.0,347.48 L536.0,349.20 L538.0,350.82 L540.0,352.34 L542.0,353.75 L544.0,355.07 L546.0,356.28 L548.0,357.39 L550.0,358.41 L552.0,359.32 L554.0,360.15 L556.0,360.90 L558.0,361.56 L560.0,362.16 L562.0,362.68 L564.0,363.15 L566.0,363.56 L568.0,363.92 L570.0,364.24 L572.0,364.52 L574.0,364.76 L576.0,364.98 L578.0,365.16 L580.0,365.33 L582.0,365.48 L584.0,365.61 L586.0,365.72 L588.0,365.82 L590.0,365.92 L592.0,366.00 L594.0,366.07 L596.0,366.14 L598.0,366.20 L600.0,366.26 L602.0,366.32 L604.0,366.37 L606.0,366.41 L608.0,366.46 L610.0,366.50 L612.0,366.54 L614.0,366.58 L616.0,366.61 L618.0,366.65 L620.0,366.68 L622.0,366.71 L624.0,366.74 L626.0,366.77 L628.0,366.79" fill="none" stroke="#a0304c" stroke-width="2.2" stroke-linejoin="round"/>
<path d="M40.0,407.20 L42.0,407.19 L44.0,407.19 L46.0,407.18 L48.0,407.17 L50.0,407.17 L52.0,407.16 L54.0,407.15 L56.0,407.14 L58.0,407.14 L60.0,407.13 L62.0,407.12 L64.0,407.11 L66.0,407.10 L68.0,407.08 L70.0,407.07 L72.0,407.06 L74.0,407.05 L76.0,407.03 L78.0,407.01 L80.0,407.00 L82.0,406.98 L84.0,406.96 L86.0,406.93 L88.0,406.91 L90.0,406.88 L92.0,406.85 L94.0,406.81 L96.0,406.77 L98.0,406.73 L100.0,406.68 L102.0,406.62 L104.0,406.56 L106.0,406.49 L108.0,406.41 L110.0,406.31 L112.0,406.21 L114.0,406.09 L116.0,405.96 L118.0,405.82 L120.0,405.66 L122.0,405.47 L124.0,405.27 L126.0,405.05 L128.0,404.81 L130.0,404.54 L132.0,404.24 L134.0,403.92 L136.0,403.58 L138.0,403.20 L140.0,402.80 L142.0,402.37 L144.0,401.92 L146.0,401.44 L148.0,400.94 L150.0,400.41 L152.0,399.86 L154.0,399.30 L156.0,398.72 L158.0,398.14 L160.0,397.54 L162.0,396.95 L164.0,396.36 L166.0,395.78 L168.0,395.22 L170.0,394.69 L172.0,394.19 L174.0,393.72 L176.0,393.31 L178.0,392.95 L180.0,392.65 L182.0,392.43 L184.0,392.27 L186.0,392.20 L188.0,392.21 L190.0,392.26 L192.0,392.35 L194.0,392.47 L196.0,392.62 L198.0,392.80 L200.0,393.01 L202.0,393.24 L204.0,393.50 L206.0,393.79 L208.0,394.09 L210.0,394.42 L212.0,394.76 L214.0,395.12 L216.0,395.49 L218.0,395.87 L220.0,396.26 L222.0,396.66 L224.0,397.07 L226.0,397.47 L228.0,397.88 L230.0,398.29 L232.0,398.70 L234.0,399.11 L236.0,399.51 L238.0,399.91 L240.0,400.31 L242.0,400.69 L244.0,401.07 L246.0,401.44 L248.0,401.80 L250.0,402.15 L252.0,402.49 L254.0,402.82 L256.0,403.14 L258.0,403.45 L260.0,403.75 L262.0,404.03 L264.0,404.30 L266.0,404.56 L268.0,404.81 L270.0,405.05 L272.0,405.27 L274.0,405.48 L276.0,405.68 L278.0,405.87 L280.0,406.05 L282.0,406.22 L284.0,406.38 L286.0,406.53 L288.0,406.66 L290.0,406.79 L292.0,406.91 L294.0,407.03 L296.0,407.13 L298.0,407.23 L300.0,407.32 L302.0,407.40 L304.0,407.47 L306.0,407.54 L308.0,407.61 L310.0,407.67 L312.0,407.72 L314.0,407.77 L316.0,407.81 L318.0,407.85 L320.0,407.89 L322.0,407.92 L324.0,407.95 L326.0,407.97 L328.0,407.99 L330.0,408.01 L332.0,408.03 L334.0,408.04 L336.0,408.05 L338.0,408.06 L340.0,408.07 L342.0,408.07 L344.0,408.08 L346.0,408.08 L348.0,408.07 L350.0,408.07 L352.0,408.07 L354.0,408.06 L356.0,408.05 L358.0,408.04 L360.0,408.03 L362.0,408.01 L364.0,407.99 L366.0,407.98 L368.0,407.96 L370.0,407.93 L372.0,407.91 L374.0,407.88 L376.0,407.85 L378.0,407.82 L380.0,407.78 L382.0,407.74 L384.0,407.70 L386.0,407.65 L388.0,407.60 L390.0,407.54 L392.0,407.48 L394.0,407.40 L396.0,407.32 L398.0,407.23 L400.0,407.13 L402.0,407.00 L404.0,406.86 L406.0,406.70 L408.0,406.50 L410.0,406.28 L412.0,406.00 L414.0,405.68 L416.0,405.30 L418.0,404.85 L420.0,404.31 L422.0,403.68 L424.0,402.94 L426.0,402.08 L428.0,401.08 L430.0,399.92 L432.0,398.60 L434.0,397.11 L436.0,395.42 L438.0,393.54 L440.0,391.46 L442.0,389.19 L444.0,386.72 L446.0,384.08 L448.0,381.28 L450.0,378.34 L452.0,375.31 L454.0,372.22 L456.0,369.12 L458.0,366.06 L460.0,363.11 L462.0,360.35 L464.0,357.84 L466.0,355.66 L468.0,353.90 L470.0,352.62 L472.0,351.87 L474.0,351.70 L476.0,352.11 L478.0,353.10 L480.0,354.62 L482.0,356.61 L484.0,359.01 L486.0,361.73 L488.0,364.70 L490.0,367.84 L492.0,371.07 L494.0,374.34 L496.0,377.58 L498.0,380.76 L500.0,383.82 L502.0,386.73 L504.0,389.48 L506.0,392.04 L508.0,394.39 L510.0,396.54 L512.0,398.49 L514.0,400.23 L516.0,401.78 L518.0,403.15 L520.0,404.34 L522.0,405.38 L524.0,406.27 L526.0,407.04 L528.0,407.70 L530.0,408.26 L532.0,408.73 L534.0,409.13 L536.0,409.47 L538.0,409.76 L540.0,410.01 L542.0,410.22 L544.0,410.40 L546.0,410.55 L548.0,410.69 L550.0,410.81 L552.0,410.92 L554.0,411.01 L556.0,411.10 L558.0,411.18 L560.0,411.25 L562.0,411.31 L564.0,411.37 L566.0,411.43 L568.0,411.49 L570.0,411.54 L572.0,411.58 L574.0,411.63 L576.0,411.67 L578.0,411.71 L580.0,411.75 L582.0,411.78 L584.0,411.82 L586.0,411.85 L588.0,411.88 L590.0,411.91 L592.0,411.94 L594.0,411.97 L596.0,411.99 L598.0,412.02 L600.0,412.04 L602.0,412.07 L604.0,412.09 L606.0,412.11 L608.0,412.13 L610.0,412.15 L612.0,412.17 L614.0,412.19 L616.0,412.20 L618.0,412.22 L620.0,412.24 L622.0,412.25 L624.0,412.27 L626.0,412.28 L628.0,412.30" fill="none" stroke="#44aa44" stroke-width="2.2" stroke-linejoin="round"/>
<rect x="221.5" y="67.6" width="1.9" height="4.2" fill="#1a1a1a"/>
<rect x="221.7" y="74.7" width="1.5" height="2.6" fill="#c4c4c4"/>
<rect x="221.5" y="92.6" width="1.9" height="4.2" fill="#1a1a1a"/>
<rect x="221.7" y="87.2" width="1.5" height="2.6" fill="#c4c4c4"/>
<rect x="210.1" y="109.6" width="1.9" height="4.2" fill="#1a1a1a"/>
<rect x="210.2" y="116.7" width="1.5" height="2.6" fill="#c4c4c4"/>
<rect x="210.1" y="134.6" width="1.9" height="4.2" fill="#1a1a1a"/>
<rect x="210.2" y="129.2" width="1.5" height="2.6" fill="#c4c4c4"/>
<rect x="211.8" y="152.6" width="1.9" height="4.2" fill="#1a1a1a"/>
<rect x="211.9" y="159.7" width="1.5" height="2.6" fill="#c4c4c4"/>
<rect x="211.8" y="177.6" width="1.9" height="4.2" fill="#1a1a1a"/>
<rect x="211.9" y="172.2" width="1.5" height="2.6" fill="#c4c4c4"/>
<rect x="187.7" y="193.2" width="1.9" height="4.2" fill="#1a1a1a"/>
<rect x="187.8" y="200.2" width="1.5" height="2.6" fill="#c4c4c4"/>
<rect x="187.7" y="218.2" width="1.9" height="4.2" fill="#1a1a1a"/>
<rect x="187.8" y="212.7" width="1.5" height="2.6" fill="#c4c4c4"/>
<rect x="203.9" y="245.5" width="1.9" height="4.2" fill="#1a1a1a"/>
<rect x="204.1" y="252.6" width="1.5" height="2.6" fill="#c4c4c4"/>
<rect x="203.9" y="270.5" width="1.9" height="4.2" fill="#1a1a1a"/>
<rect x="204.1" y="265.1" width="1.5" height="2.6" fill="#c4c4c4"/>
<rect x="200.2" y="293.3" width="1.9" height="4.2" fill="#1a1a1a"/>
<rect x="200.4" y="300.3" width="1.5" height="2.6" fill="#c4c4c4"/>
<rect x="200.2" y="318.3" width="1.9" height="4.2" fill="#1a1a1a"/>
<rect x="200.4" y="312.8" width="1.5" height="2.6" fill="#c4c4c4"/>
<rect x="210.0" y="335.5" width="1.9" height="4.2" fill="#1a1a1a"/>
<rect x="210.2" y="342.6" width="1.5" height="2.6" fill="#c4c4c4"/>
<rect x="210.0" y="360.5" width="1.9" height="4.2" fill="#1a1a1a"/>
<rect x="210.2" y="355.1" width="1.5" height="2.6" fill="#c4c4c4"/>
<rect x="184.7" y="377.6" width="1.9" height="4.2" fill="#1a1a1a"/>
<rect x="184.8" y="384.7" width="1.5" height="2.6" fill="#c4c4c4"/>
<rect x="184.7" y="402.6" width="1.9" height="4.2" fill="#1a1a1a"/>
<rect x="184.8" y="397.2" width="1.5" height="2.6" fill="#c4c4c4"/>
<rect x="506.1" y="39.1" width="1.9" height="4.2" fill="#1a1a1a"/>
<rect x="506.2" y="46.2" width="1.5" height="2.6" fill="#c4c4c4"/>
<rect x="506.1" y="64.1" width="1.9" height="4.2" fill="#1a1a1a"/>
<rect x="506.2" y="58.7" width="1.5" height="2.6" fill="#c4c4c4"/>
<rect x="494.4" y="77.6" width="1.9" height="4.2" fill="#1a1a1a"/>
<rect x="494.6" y="84.6" width="1.5" height="2.6" fill="#c4c4c4"/>
<rect x="494.4" y="102.6" width="1.9" height="4.2" fill="#1a1a1a"/>
<rect x="494.6" y="97.1" width="1.5" height="2.6" fill="#c4c4c4"/>
<rect x="495.6" y="121.8" width="1.9" height="4.2" fill="#1a1a1a"/>
<rect x="495.8" y="128.8" width="1.5" height="2.6" fill="#c4c4c4"/>
<rect x="495.6" y="146.8" width="1.9" height="4.2" fill="#1a1a1a"/>
<rect x="495.8" y="141.3" width="1.5" height="2.6" fill="#c4c4c4"/>
<rect x="472.4" y="151.2" width="1.9" height="4.2" fill="#1a1a1a"/>
<rect x="472.6" y="158.3" width="1.5" height="2.6" fill="#c4c4c4"/>
<rect x="472.4" y="176.2" width="1.9" height="4.2" fill="#1a1a1a"/>
<rect x="472.6" y="170.8" width="1.5" height="2.6" fill="#c4c4c4"/>
<rect x="487.8" y="233.2" width="1.9" height="4.2" fill="#1a1a1a"/>
<rect x="487.9" y="240.2" width="1.5" height="2.6" fill="#c4c4c4"/>
<rect x="487.8" y="258.2" width="1.9" height="4.2" fill="#1a1a1a"/>
<rect x="487.9" y="252.7" width="1.5" height="2.6" fill="#c4c4c4"/>
<rect x="484.1" y="276.5" width="1.9" height="4.2" fill="#1a1a1a"/>
<rect x="484.2" y="283.5" width="1.5" height="2.6" fill="#c4c4c4"/>
<rect x="484.1" y="301.5" width="1.9" height="4.2" fill="#1a1a1a"/>
<rect x="484.2" y="296.0" width="1.5" height="2.6" fill="#c4c4c4"/>
<rect x="497.1" y="304.7" width="1.9" height="4.2" fill="#1a1a1a"/>
<rect x="497.2" y="311.7" width="1.5" height="2.6" fill="#c4c4c4"/>
<rect x="497.1" y="329.7" width="1.9" height="4.2" fill="#1a1a1a"/>
<rect x="497.2" y="324.2" width="1.5" height="2.6" fill="#c4c4c4"/>
<rect x="473.2" y="337.1" width="1.9" height="4.2" fill="#1a1a1a"/>
<rect x="473.4" y="344.2" width="1.5" height="2.6" fill="#c4c4c4"/>
<rect x="473.2" y="362.1" width="1.9" height="4.2" fill="#1a1a1a"/>
<rect x="473.4" y="356.7" width="1.5" height="2.6" fill="#c4c4c4"/>
<circle cx="222.4" cy="82.2" r="1.9" fill="#1a0f1a"/>
<circle cx="211.0" cy="124.2" r="1.9" fill="#1a0f1a"/>
<circle cx="212.7" cy="167.2" r="1.9" fill="#1a0f1a"/>
<circle cx="188.6" cy="207.8" r="1.9" fill="#1a0f1a"/>
<circle cx="204.8" cy="260.1" r="1.9" fill="#1a0f1a"/>
<circle cx="201.2" cy="307.9" r="1.9" fill="#1a0f1a"/>
<circle cx="210.9" cy="350.1" r="1.9" fill="#1a0f1a"/>
<circle cx="185.6" cy="392.2" r="1.9" fill="#1a0f1a"/>
<circle cx="507.0" cy="53.7" r="1.9" fill="#1a0f1a"/>
<circle cx="495.4" cy="92.2" r="1.9" fill="#1a0f1a"/>
<circle cx="496.5" cy="136.4" r="1.9" fill="#1a0f1a"/>
<circle cx="473.3" cy="165.8" r="1.9" fill="#1a0f1a"/>
<circle cx="488.7" cy="247.8" r="1.9" fill="#1a0f1a"/>
<circle cx="485.0" cy="291.1" r="1.9" fill="#1a0f1a"/>
<circle cx="498.0" cy="319.3" r="1.9" fill="#1a0f1a"/>
<circle cx="474.2" cy="351.7" r="1.9" fill="#1a0f1a"/>
<rect x="39.0" y="5.5" width="590.5" height="429.0" fill="none" stroke="#0a0a0a" stroke-width="2.4" stroke-linejoin="round"/>
<line x1="88.2" y1="434.5" x2="88.2" y2="429.5" stroke="#0a0a0a" stroke-width="2"/>
<line x1="137.4" y1="434.5" x2="137.4" y2="425.5" stroke="#0a0a0a" stroke-width="2"/>
<line x1="186.6" y1="434.5" x2="186.6" y2="429.5" stroke="#0a0a0a" stroke-width="2"/>
<line x1="235.8" y1="434.5" x2="235.8" y2="425.5" stroke="#0a0a0a" stroke-width="2"/>
<line x1="285.0" y1="434.5" x2="285.0" y2="429.5" stroke="#0a0a0a" stroke-width="2"/>
<line x1="334.2" y1="434.5" x2="334.2" y2="425.5" stroke="#0a0a0a" stroke-width="2"/>
<line x1="383.5" y1="434.5" x2="383.5" y2="429.5" stroke="#0a0a0a" stroke-width="2"/>
<line x1="432.7" y1="434.5" x2="432.7" y2="425.5" stroke="#0a0a0a" stroke-width="2"/>
<line x1="481.9" y1="434.5" x2="481.9" y2="429.5" stroke="#0a0a0a" stroke-width="2"/>
<line x1="531.1" y1="434.5" x2="531.1" y2="425.5" stroke="#0a0a0a" stroke-width="2"/>
<line x1="580.3" y1="434.5" x2="580.3" y2="429.5" stroke="#0a0a0a" stroke-width="2"/>
<text x="39.0" y="457.5" text-anchor="middle" style="font-family:'Liberation Serif',serif;font-weight:bold;font-size:17px" fill="#000">468</text>
<text x="137.4" y="457.5" text-anchor="middle" style="font-family:'Liberation Serif',serif;font-weight:bold;font-size:17px" fill="#000">466</text>
<text x="235.8" y="457.5" text-anchor="middle" style="font-family:'Liberation Serif',serif;font-weight:bold;font-size:17px" fill="#000">464</text>
<text x="334.2" y="457.5" text-anchor="middle" style="font-family:'Liberation Serif',serif;font-weight:bold;font-size:17px" fill="#000">462</text>
<text x="432.7" y="457.5" text-anchor="middle" style="font-family:'Liberation Serif',serif;font-weight:bold;font-size:17px" fill="#000">460</text>
<text x="531.1" y="457.5" text-anchor="middle" style="font-family:'Liberation Serif',serif;font-weight:bold;font-size:17px" fill="#000">458</text>
<text x="629.5" y="457.5" text-anchor="middle" style="font-family:'Liberation Serif',serif;font-weight:bold;font-size:17px" fill="#000">456</text>
<text x="242.3" y="486" textLength="178.5" lengthAdjust="spacing" style="font-family:'Liberation Serif',serif;font-weight:bold;font-size:20.8px" fill="#000">Binding Energy(eV)</text>
<text transform="translate(19,233.5) rotate(-90)" x="0" y="0" text-anchor="middle" style="font-family:'Liberation Serif',serif;font-weight:bold;font-size:20.8px" fill="#000">Intensity(a.u.)</text>
<text x="50.5" y="33.1" style="font-family:'Liberation Serif',serif;font-weight:bold;font-size:18.5px" fill="#000"><tspan textLength="22" lengthAdjust="spacingAndGlyphs">(a)</tspan><tspan x="77.6">Ti</tspan><tspan x="101">2p</tspan></text>
<text x="259.5" y="46.2" style="font-family:'Liberation Serif',serif;font-weight:bold;font-size:17.6px" fill="#000">Ti<tspan x="281.8">2p</tspan></text>
<text x="303.2" y="55.6" style="font-family:'Liberation Serif',serif;font-size:11px" fill="#000">1/2</text>
<text x="417.4" y="34.6" style="font-family:'Liberation Serif',serif;font-weight:bold;font-size:17.6px" fill="#000">Ti<tspan x="439.7">2p</tspan></text>
<text x="460.5" y="44" style="font-family:'Liberation Serif',serif;font-size:11px" fill="#000">3/2</text>
<line x1="281.8" y1="50.8" x2="261.6" y2="71.6" stroke="#000" stroke-width="2.1"/><polygon points="255.3,78.0 261.2,68.4 264.8,71.9" fill="#000"/>
<line x1="443.9" y1="40.8" x2="467.4" y2="63.2" stroke="#000" stroke-width="2.1"/><polygon points="473.9,69.4 464.2,63.6 467.7,60.0" fill="#000"/>
<text x="57.5" y="90.6" style="font-family:'Liberation Serif',serif;font-weight:bold;font-size:17px" fill="#000">VCe/Ti</text>
<text x="44.8" y="130.9" style="font-family:'Liberation Serif',serif;font-weight:bold;font-size:17px" fill="#000">ABS-VCe/Ti</text>
<text x="57.8" y="177.0" style="font-family:'Liberation Serif',serif;font-weight:bold;font-size:17px" fill="#000">VSb/Ti</text>
<text x="44.8" y="217.3" style="font-family:'Liberation Serif',serif;font-weight:bold;font-size:17px" fill="#000">ABS-VSb/Ti</text>
<text x="57.0" y="262.7" style="font-family:'Liberation Serif',serif;font-weight:bold;font-size:17px" fill="#000">VMo/Ti</text>
<text x="44.8" y="312.0" style="font-family:'Liberation Serif',serif;font-weight:bold;font-size:17px" fill="#000">ABS-VMo/Ti</text>
<text x="69.0" y="358.3" style="font-family:'Liberation Serif',serif;font-weight:bold;font-size:17px" fill="#000">V/Ti</text>
<text x="52.3" y="402.0" style="font-family:'Liberation Serif',serif;font-weight:bold;font-size:17px" fill="#000">ABS-V/Ti</text>
<text x="205.3" y="66.4" textLength="35.6" lengthAdjust="spacingAndGlyphs" style="font-family:'Liberation Serif',serif;font-weight:bold;font-size:11.6px" fill="#000">464.27</text>
<text x="194.3" y="108.4" textLength="36.7" lengthAdjust="spacingAndGlyphs" style="font-family:'Liberation Serif',serif;font-weight:bold;font-size:11.6px" fill="#000">464.50</text>
<text x="195.5" y="152.2" textLength="35.8" lengthAdjust="spacingAndGlyphs" style="font-family:'Liberation Serif',serif;font-weight:bold;font-size:11.6px" fill="#000">464.46</text>
<text x="170.6" y="191.6" textLength="35.9" lengthAdjust="spacingAndGlyphs" style="font-family:'Liberation Serif',serif;font-weight:bold;font-size:11.6px" fill="#000">464.94</text>
<text x="187.5" y="244.7" textLength="35.9" lengthAdjust="spacingAndGlyphs" style="font-family:'Liberation Serif',serif;font-weight:bold;font-size:11.6px" fill="#000">464.62</text>
<text x="184.3" y="291.7" textLength="35.8" lengthAdjust="spacingAndGlyphs" style="font-family:'Liberation Serif',serif;font-weight:bold;font-size:11.6px" fill="#000">464.70</text>
<text x="194.0" y="333.2" textLength="35.8" lengthAdjust="spacingAndGlyphs" style="font-family:'Liberation Serif',serif;font-weight:bold;font-size:11.6px" fill="#000">464.50</text>
<text x="168.7" y="377.1" textLength="36.6" lengthAdjust="spacingAndGlyphs" style="font-family:'Liberation Serif',serif;font-weight:bold;font-size:11.6px" fill="#000">465.10</text>
<text x="488.8" y="38.0" textLength="37.2" lengthAdjust="spacingAndGlyphs" style="font-family:'Liberation Serif',serif;font-weight:bold;font-size:11.6px" fill="#000">458.49</text>
<text x="497.7" y="85.8" textLength="37.4" lengthAdjust="spacingAndGlyphs" style="font-family:'Liberation Serif',serif;font-weight:bold;font-size:11.6px" fill="#000">458.72</text>
<text x="479.7" y="122.2" textLength="35.5" lengthAdjust="spacingAndGlyphs" style="font-family:'Liberation Serif',serif;font-weight:bold;font-size:11.6px" fill="#000">458.69</text>
<text x="477.5" y="164.5" textLength="34.6" lengthAdjust="spacingAndGlyphs" style="font-family:'Liberation Serif',serif;font-weight:bold;font-size:11.6px" fill="#000">459.17</text>
<text x="471.0" y="232.1" textLength="36.1" lengthAdjust="spacingAndGlyphs" style="font-family:'Liberation Serif',serif;font-weight:bold;font-size:11.6px" fill="#000">458.86</text>
<text x="468.5" y="274.6" textLength="35.2" lengthAdjust="spacingAndGlyphs" style="font-family:'Liberation Serif',serif;font-weight:bold;font-size:11.6px" fill="#000">458.94</text>
<text x="460.5" y="317.2" textLength="35.1" lengthAdjust="spacingAndGlyphs" style="font-family:'Liberation Serif',serif;font-weight:bold;font-size:11.6px" fill="#000">458.66</text>
<text x="477.1" y="348.0" textLength="35.0" lengthAdjust="spacingAndGlyphs" style="font-family:'Liberation Serif',serif;font-weight:bold;font-size:11.6px" fill="#000">459.16</text>
</g>
</svg>
</body></html>
